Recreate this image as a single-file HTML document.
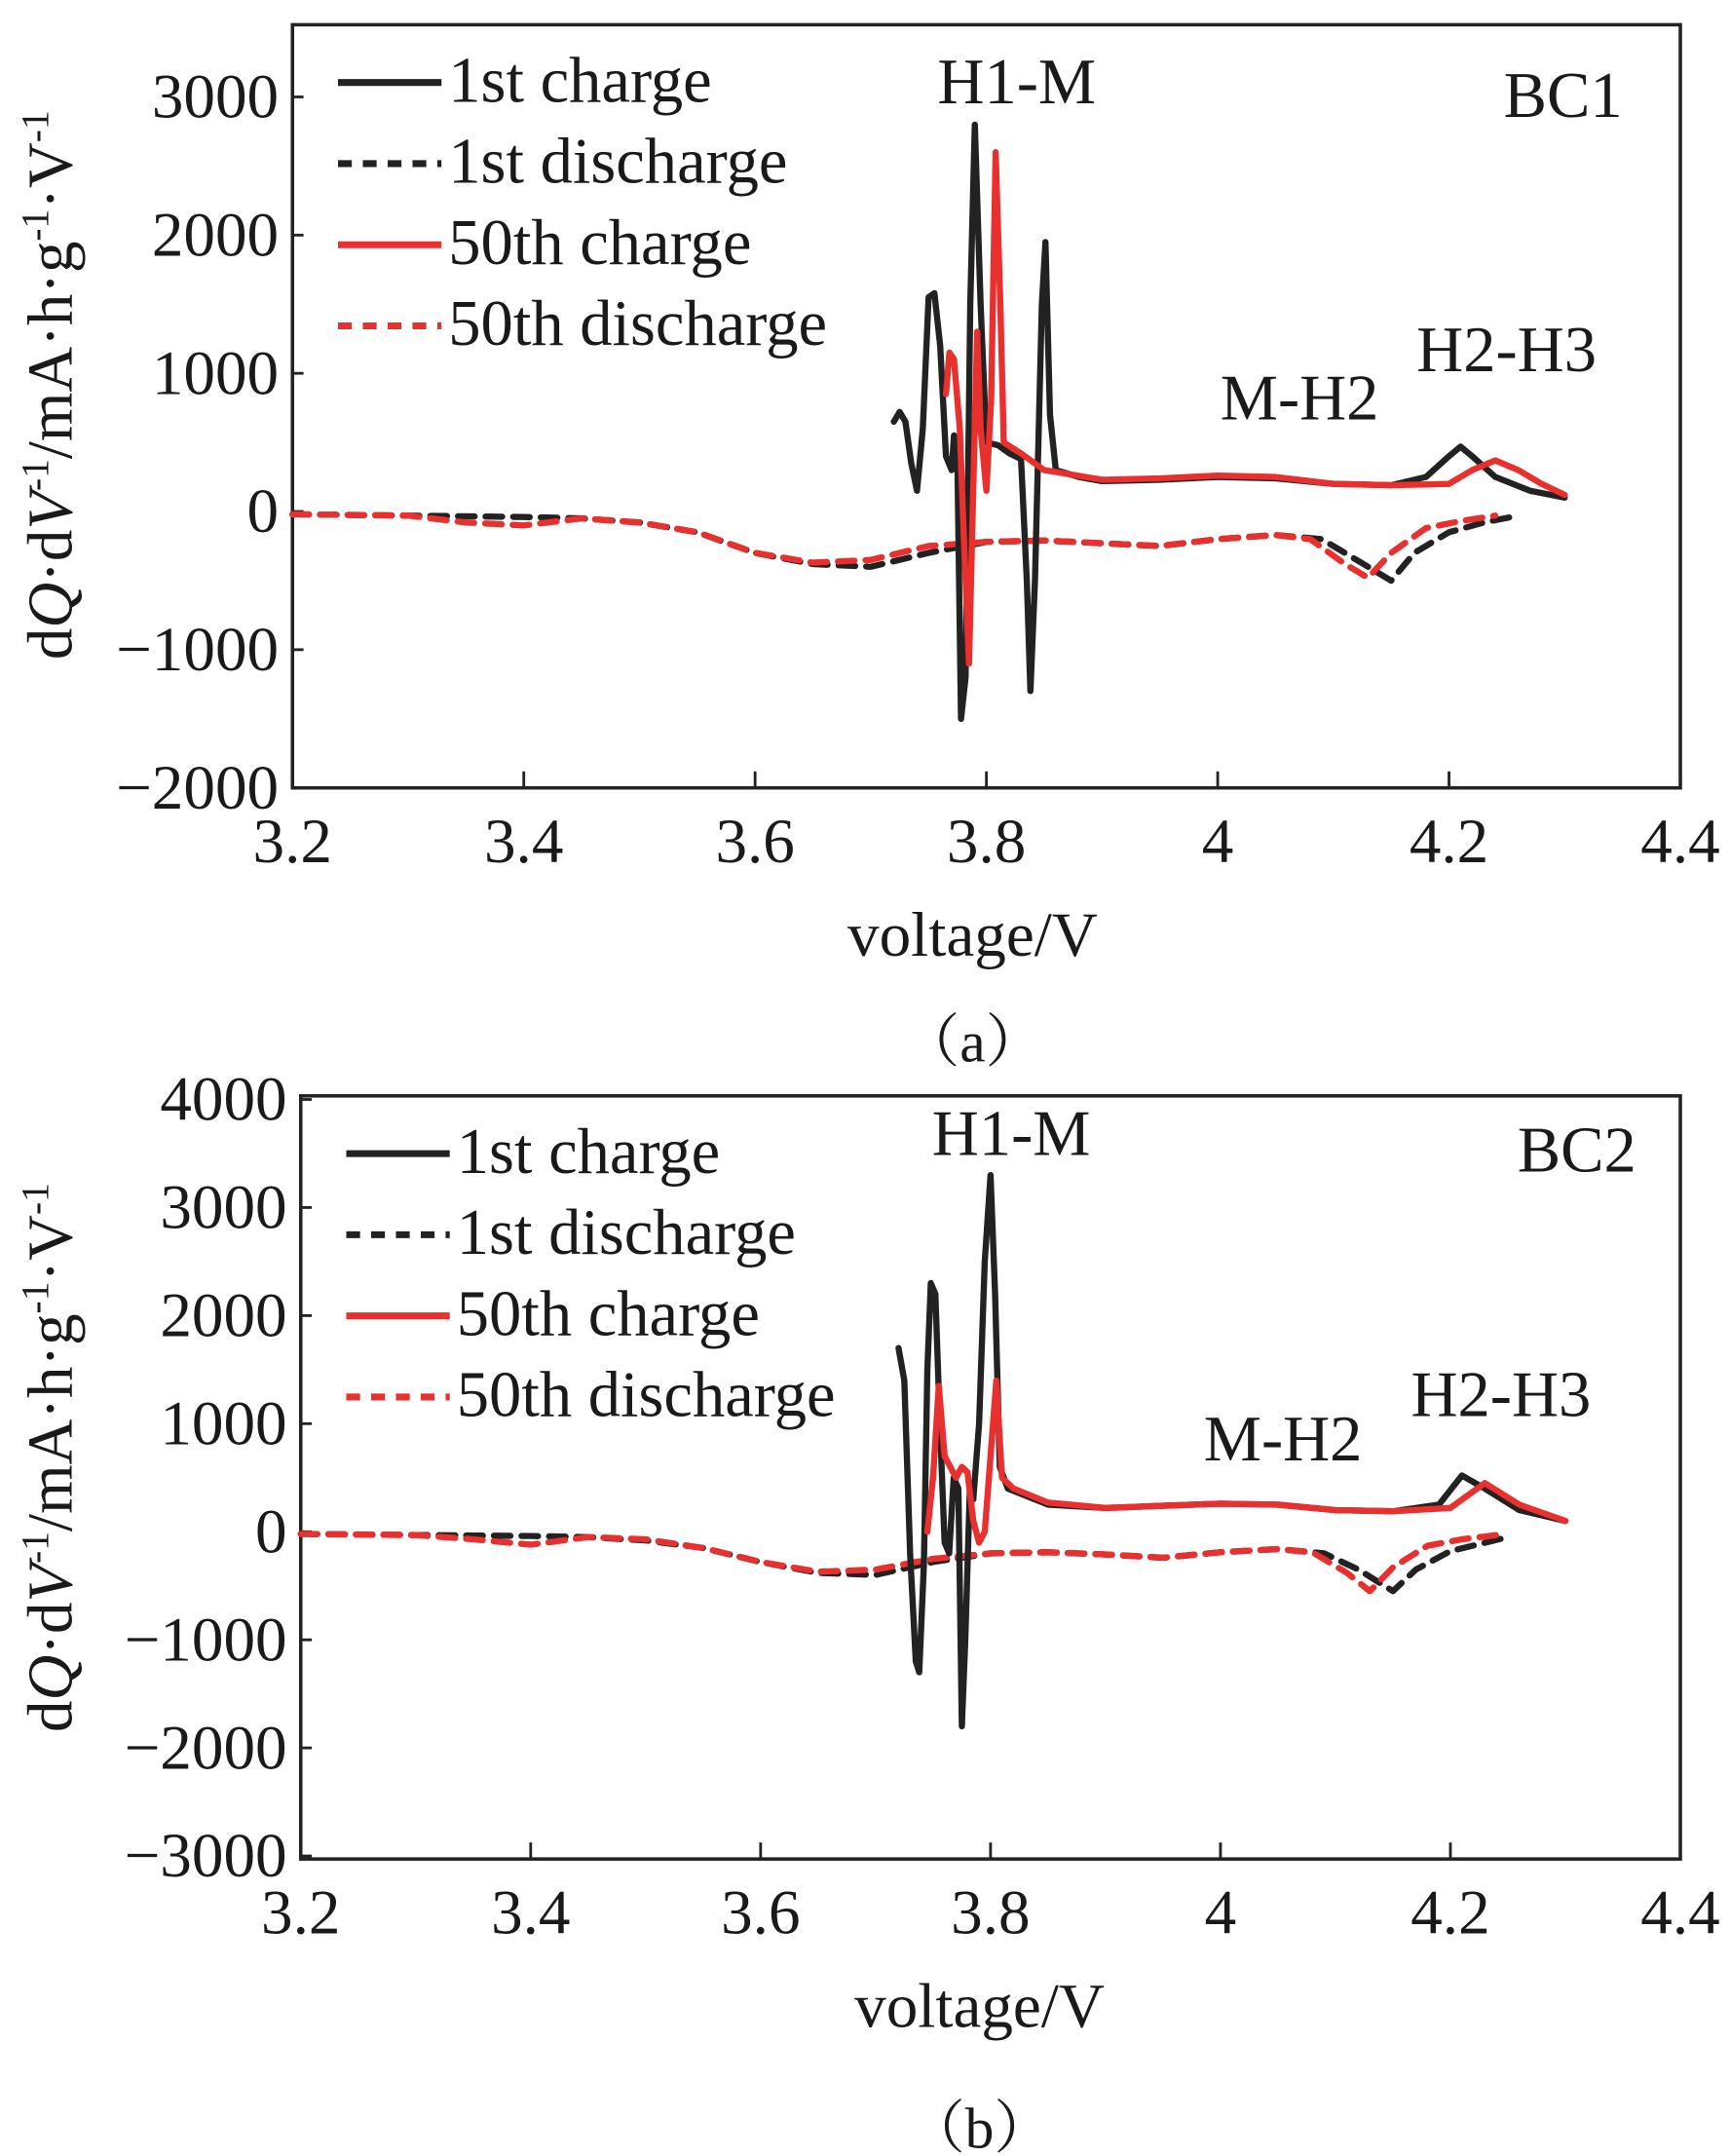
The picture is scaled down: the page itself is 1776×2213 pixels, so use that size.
<!DOCTYPE html>
<html><head><meta charset="utf-8"><style>
html,body{margin:0;padding:0;background:#fff;}
svg{display:block;}
text{font-family:"Liberation Serif","Noto Serif CJK SC",serif;fill:#1a1a1a;}
</style></head><body>
<svg id="fig" width="1776" height="2213" viewBox="0 0 1254 1568" preserveAspectRatio="none" xmlns="http://www.w3.org/2000/svg"></svg>
<script>
// ---- Chart (a) data ----
const aCharge1V=[3.72,3.725,3.73,3.735,3.74,3.745,3.75,3.755,3.76,3.765,3.77,3.772,3.775,3.778,3.782,3.786,3.79,3.795,3.80,3.81,3.82,3.83,3.835,3.838,3.842,3.848,3.851,3.855,3.86,3.88,3.9,3.95,4.0,4.05,4.1,4.15,4.18,4.2,4.21,4.22,4.24,4.27,4.30];
const aCharge1Q=[650,720,650,350,150,600,1550,1580,1200,400,300,550,350,-1500,-1200,1500,2800,1500,500,480,420,380,-500,-1300,-500,1500,1950,700,300,250,220,230,250,240,200,190,250,400,470,400,250,150,100];
const aCharge50V=[3.765,3.768,3.772,3.777,3.781,3.785,3.789,3.792,3.795,3.80,3.804,3.808,3.812,3.815,3.83,3.85,3.9,3.95,4.0,4.05,4.1,4.15,4.2,4.22,4.24,4.26,4.28,4.30];
const aCharge50Q=[850,1150,1100,600,-300,-1100,300,1300,600,150,800,2600,1500,500,420,300,230,240,260,250,200,190,200,300,370,300,200,120];
const aDis1V=[3.2,3.3,3.4,3.45,3.5,3.55,3.6,3.65,3.7,3.75,3.8,3.85,3.9,3.95,4.0,4.05,4.09,4.12,4.15,4.17,4.2,4.23,4.26];
const aDis1Q=[-20,-30,-40,-50,-80,-150,-300,-380,-400,-300,-220,-210,-230,-250,-200,-170,-200,-350,-500,-300,-150,-80,-30];
const aDis50V=[3.2,3.3,3.35,3.4,3.45,3.5,3.55,3.6,3.65,3.7,3.75,3.8,3.85,3.9,3.95,4.0,4.05,4.08,4.11,4.13,4.15,4.18,4.21,4.24];
const aDis50Q=[-20,-30,-80,-100,-50,-80,-150,-300,-370,-350,-250,-220,-210,-230,-250,-200,-170,-200,-380,-480,-300,-120,-70,-30];
// ---- Chart (b) data ----
const bCharge1V=[3.72,3.725,3.73,3.735,3.738,3.742,3.745,3.748,3.752,3.756,3.76,3.764,3.768,3.772,3.775,3.778,3.782,3.785,3.79,3.795,3.80,3.804,3.808,3.815,3.85,3.9,3.95,4.0,4.05,4.1,4.15,4.19,4.21,4.23,4.26,4.30];
const bCharge1Q=[1700,1400,-200,-1200,-1300,-300,1500,2300,2200,1000,-100,-200,500,400,-1800,-1000,400,300,1000,2500,3300,2200,600,400,250,220,240,260,250,200,190,250,520,400,200,100];
const bCharge50V=[3.745,3.75,3.755,3.76,3.765,3.77,3.775,3.78,3.785,3.79,3.795,3.80,3.805,3.81,3.82,3.85,3.9,3.95,4.0,4.05,4.1,4.15,4.2,4.23,4.26,4.30];
const bCharge50Q=[0,500,1350,700,600,500,600,550,100,-100,0,700,1400,500,400,270,220,240,260,250,200,190,220,450,250,100];
const bDis1V=[3.2,3.3,3.4,3.45,3.5,3.55,3.6,3.65,3.7,3.75,3.8,3.85,3.9,3.95,4.0,4.05,4.09,4.12,4.15,4.17,4.2,4.25];
const bDis1Q=[-20,-30,-40,-50,-80,-150,-280,-380,-400,-280,-200,-190,-210,-240,-190,-160,-200,-350,-550,-350,-180,-50];
const bDis50V=[3.2,3.3,3.35,3.4,3.45,3.5,3.55,3.6,3.65,3.7,3.75,3.8,3.85,3.9,3.95,4.0,4.05,4.08,4.11,4.13,4.15,4.18,4.21,4.24];
const bDis50Q=[-20,-30,-70,-120,-50,-70,-150,-280,-370,-350,-250,-200,-190,-210,-240,-190,-160,-190,-380,-550,-330,-130,-70,-30];
const xTicks=[3.2,3.4,3.6,3.8,4,4.2,4.4];
const aYTicks=[3000,2000,1000,0,-1000,-2000];
const bYTicks=[4000,3000,2000,1000,0,-1000,-2000,-3000];
const legendLabels=["1st charge","1st discharge","50th charge","50th discharge"];

const NS="http://www.w3.org/2000/svg";
const svg=document.getElementById('fig');
function mk(tag,attrs,parent){const e=document.createElementNS(NS,tag);for(const k in attrs)e.setAttribute(k,attrs[k]);(parent||svg).appendChild(e);return e;}

function chart(o){
  const g=mk('g',{});
  
  
  const X=v=>o.L+(v-3.2)/(1.2)*(o.R-o.L);
  const Y=q=>o.y0-q*o.k;
  const fr=mk('rect',{x:o.L,y:o.T,width:o.R-o.L,height:o.B-o.T,fill:'none',stroke:'#222','stroke-width':2.5},g);
  
  
  xTicks.forEach(v=>{
    const t=mk('line',{x1:X(v),x2:X(v),y1:o.B,y2:o.B-12,stroke:'#222','stroke-width':2},g);
    
    
    const l=mk('text',{x:X(v),y:o.B+54,'font-size':46,'text-anchor':'middle'},g);l.textContent=String(v);
    
    
  });
  o.yt.forEach(q=>{
    const t=mk('line',{x1:o.L,x2:o.L+8,y1:Y(q),y2:Y(q),stroke:'#222','stroke-width':2},g);
    
    
    const l=mk('text',{x:o.L-10,y:Y(q)+15,'font-size':46,'text-anchor':'end'},g);l.textContent=q<0?'\u2212'+(-q):String(q);
    
    
  });
  const series=[[o.d1V,o.d1Q,'#222','12 8','discharge-1st'],[o.d50V,o.d50Q,'#e8302e','12 8','discharge-50th'],[o.c1V,o.c1Q,'#222','','charge-1st'],[o.c50V,o.c50Q,'#e8302e','','charge-50th']];
  series.forEach(s=>{
    const d=s[0].map((v,i)=>(i?'L':'M')+X(v).toFixed(1)+','+Y(s[1][i]).toFixed(1)).join(' ');
    const p=mk('path',{d:d,fill:'none',stroke:s[2],'stroke-width':4.5,'stroke-dasharray':s[3],'stroke-linejoin':'round','stroke-linecap':'round'},g);
    
    
  });
  const cols=['#222','#222','#e8302e','#e8302e'],dash=['','10 8','','10 8'];
  legendLabels.forEach((lab,i)=>{
    const y=o.legY+i*59;
    const ln=mk('line',{x1:o.L+33,x2:o.L+108,y1:y,y2:y,stroke:cols[i],'stroke-width':5,'stroke-dasharray':dash[i]},g);
    
    
    const t=mk('text',{x:o.L+113,y:y+14,'font-size':47},g);t.textContent=lab;
    
    
  });
  o.ann.forEach(a=>{
    const t=mk('text',{x:a[1],y:a[2],'font-size':47,'text-anchor':'middle'},g);t.textContent=a[0];
    
    
  });
  const xl=mk('text',{x:o.xlx,y:o.B+122,'font-size':46,'text-anchor':'middle'},g);xl.textContent='voltage/V';
  
  
  const yl=mk('text',{transform:'translate('+o.ylx+','+o.yly+') rotate(-90)','font-size':46,'text-anchor':'middle'},g);
  yl.innerHTML='d<tspan font-style="italic">Q</tspan>·d<tspan font-style="italic">V</tspan><tspan font-size="28" dy="-17">-1</tspan><tspan dy="17">/mA·h·g</tspan><tspan font-size="28" dy="-17">-1</tspan><tspan dy="17">·V</tspan><tspan font-size="28" dy="-17">-1</tspan>';
  
  
  const cap=mk('text',{x:o.xlx,y:o.capY,'font-size':42,'text-anchor':'middle'},g);cap.textContent=o.cap;
  
  
}
chart({name:'chart-a',L:212,R:1218,T:18,B:573,y0:372,k:0.1005,yt:aYTicks,
  c1V:aCharge1V,c1Q:aCharge1Q,c50V:aCharge50V,c50Q:aCharge50Q,d1V:aDis1V,d1Q:aDis1Q,d50V:aDis50V,d50Q:aDis50Q,
  legY:60,ann:[['H1-M',737,75],['BC1',1133,85],['M-H2',942,305],['H2-H3',1092,270]],xlx:705,ylx:52,yly:280,cap:'（a）',capY:772});
chart({name:'chart-b',L:218,R:1218,T:797,B:1352,y0:1114,k:0.0786,yt:bYTicks,
  c1V:bCharge1V,c1Q:bCharge1Q,c50V:bCharge50V,c50Q:bCharge50Q,d1V:bDis1V,d1Q:bDis1Q,d50V:bDis50V,d50Q:bDis50Q,
  legY:839,ann:[['H1-M',733,840],['BC2',1143,852],['M-H2',930,1062],['H2-H3',1088,1030]],xlx:710,ylx:52,yly:1060,cap:'（b）',capY:1562});
</script>
</body></html>
